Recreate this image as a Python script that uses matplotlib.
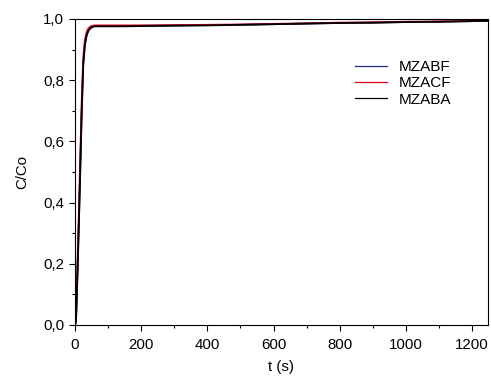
import matplotlib
matplotlib.use('agg')
import matplotlib.pyplot as plt
import matplotlib.ticker as mticker
import numpy as np

plt.rcParams['font.family'] = ['Liberation Sans', 'DejaVu Sans']

# breakthrough curves, time in seconds
t = [0, 3, 8, 13, 17, 20, 25, 30, 35, 40, 45, 50, 55, 60, 70, 80, 100,
     150, 200, 300, 400, 500, 600, 700, 800, 900, 1000, 1100, 1200, 1250]
mzabf = [0.0, 0.01, 0.19, 0.39, 0.56, 0.69, 0.855, 0.92, 0.948, 0.962, 0.970,
         0.974, 0.976, 0.977, 0.977, 0.977, 0.977, 0.977, 0.978, 0.979, 0.980,
         0.981, 0.983, 0.985, 0.987, 0.988, 0.990, 0.991, 0.993, 0.994]
mzacf = [0.0, 0.02, 0.22, 0.42, 0.59, 0.72, 0.875, 0.932, 0.956, 0.968, 0.974,
         0.977, 0.978, 0.979, 0.979, 0.979, 0.979, 0.979, 0.979, 0.980, 0.981,
         0.982, 0.984, 0.986, 0.988, 0.989, 0.991, 0.992, 0.994, 0.995]
mzaba = [0.0, 0.01, 0.18, 0.38, 0.55, 0.68, 0.85, 0.915, 0.945, 0.960, 0.968,
         0.972, 0.975, 0.976, 0.976, 0.976, 0.976, 0.976, 0.977, 0.978, 0.979,
         0.981, 0.983, 0.985, 0.987, 0.988, 0.990, 0.991, 0.993, 0.994]

fig = plt.figure(figsize=(4.91, 3.79), dpi=100)
ax = fig.add_axes([0.1527, 0.1425, 0.8412, 0.8074])

ax.plot(t, mzabf, color='#1f2a8a', lw=1.3, label='MZABF')
ax.plot(t, mzacf, color='#e0001b', lw=1.3, label='MZACF')
ax.plot(t, mzaba, color='black', lw=1.3, label='MZABA')

ax.set_xlim(0, 1248)
ax.set_ylim(0, 1.0)
ax.xaxis.set_major_locator(mticker.MultipleLocator(200))
ax.xaxis.set_minor_locator(mticker.MultipleLocator(100))
ax.yaxis.set_major_locator(mticker.MultipleLocator(0.2))
ax.yaxis.set_minor_locator(mticker.MultipleLocator(0.1))
ax.yaxis.set_major_formatter(mticker.FuncFormatter(lambda v, p: ('%.1f' % v).replace('.', ',')))
ax.tick_params(which='both', direction='out', labelsize=10.8, top=False, right=False, width=0.8)
ax.tick_params(axis='x', which='major', length=4.3, pad=5)
ax.tick_params(axis='y', which='major', length=4.3, pad=3.5)
ax.tick_params(which='minor', length=2.5)
for s in ax.spines.values():
    s.set_linewidth(0.8)

ax.set_xlabel('t (s)', fontsize=10.8, labelpad=6)
ax.set_ylabel('C/Co', fontsize=10.8, labelpad=10)

leg = ax.legend(loc='upper left', bbox_to_anchor=(0.678, 0.866), frameon=False,
                fontsize=11, handlelength=2.1, handletextpad=0.75, labelspacing=0.15,
                borderpad=0, borderaxespad=0)
for h in leg.get_lines():
    h.set_linewidth(0.9)

fig.savefig('out.png', dpi=100)
